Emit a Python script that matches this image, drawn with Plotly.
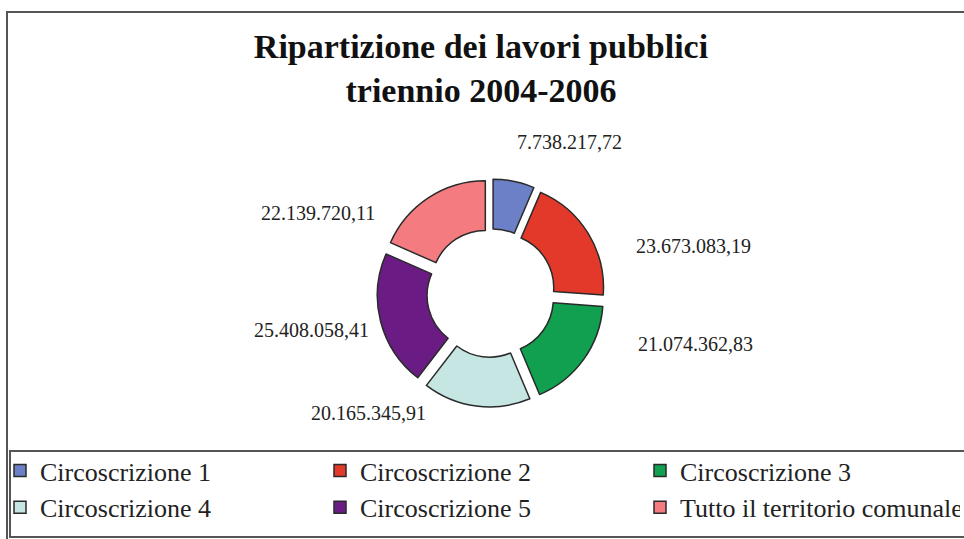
import plotly.graph_objects as go

# Public works split by district, 2004-2006 (euro)
labels = [
    "Circoscrizione 1",
    "Circoscrizione 2",
    "Circoscrizione 3",
    "Circoscrizione 4",
    "Circoscrizione 5",
    "Tutto il territorio comunale",
]
values = [
    7738217.72,
    23673083.19,
    21074362.83,
    20165345.91,
    25408058.41,
    22139720.11,
]
colors = ["#6B80C6", "#E2392A", "#10A04F", "#C6E6E4", "#6A1C84", "#F47C80"]

# Label anchor points (pixels from top-left) for each slice's value
label_xy = [(569, 142), (693, 246), (695, 344), (368, 413), (311, 330), (318, 213)]

W, H = 964, 539


def it_format(v):
    s = f"{v:,.2f}"
    return s.replace(",", "#").replace(".", ",").replace("#", ".")


cx, cy, ext = 491, 293, 114

fig = go.Figure(
    go.Pie(
        labels=labels,
        values=values,
        hole=0.52,
        sort=False,
        direction="clockwise",
        rotation=0,
        pull=[0.1] * len(values),
        marker=dict(colors=colors, line=dict(color="#2a2a2a", width=1.5)),
        textinfo="none",
        hoverinfo="label+value",
        domain=dict(
            x=[(cx - ext) / W, (cx + ext) / W],
            y=[(H - cy - ext) / H, (H - cy + ext) / H],
        ),
    )
)

annotations = []
for v, (x, y) in zip(values, label_xy):
    annotations.append(
        dict(
            text=it_format(v),
            x=x / W,
            y=1 - y / H,
            xref="paper",
            yref="paper",
            xanchor="center",
            yanchor="middle",
            showarrow=False,
            font=dict(family="Liberation Serif", size=20, color="#222222"),
        )
    )

shapes = [
    # outer chart frame
    dict(type="rect", xref="paper", yref="paper",
         x0=7 / W, x1=1.02, y0=-0.02, y1=1 - 12 / H,
         line=dict(color="#555555", width=2)),
    # legend frame
    dict(type="rect", xref="paper", yref="paper",
         x0=10 / W, x1=1.02, y0=1 - 537 / H, y1=1 - 451 / H,
         line=dict(color="#555555", width=2)),
]

fig.update_layout(
    width=W,
    height=H,
    margin=dict(l=0, r=0, t=0, b=0),
    paper_bgcolor="white",
    plot_bgcolor="white",
    title=dict(
        text="<b>Ripartizione dei lavori pubblici<br>triennio 2004-2006</b>",
        x=481 / W,
        xanchor="center",
        y=1 - 58 / H,
        yanchor="top",
        font=dict(family="Liberation Serif", size=34, color="#111111"),
    ),
    legend=dict(
        orientation="h",
        x=0,
        xanchor="left",
        y=1 - 447 / H,
        yanchor="top",
        entrywidth=275,
        entrywidthmode="pixels",
        font=dict(family="Liberation Serif", size=26, color="#222222"),
        bgcolor="rgba(0,0,0,0)",
        traceorder="normal",
    ),
    annotations=annotations,
    shapes=shapes,
)

fig.write_html("out.html")
